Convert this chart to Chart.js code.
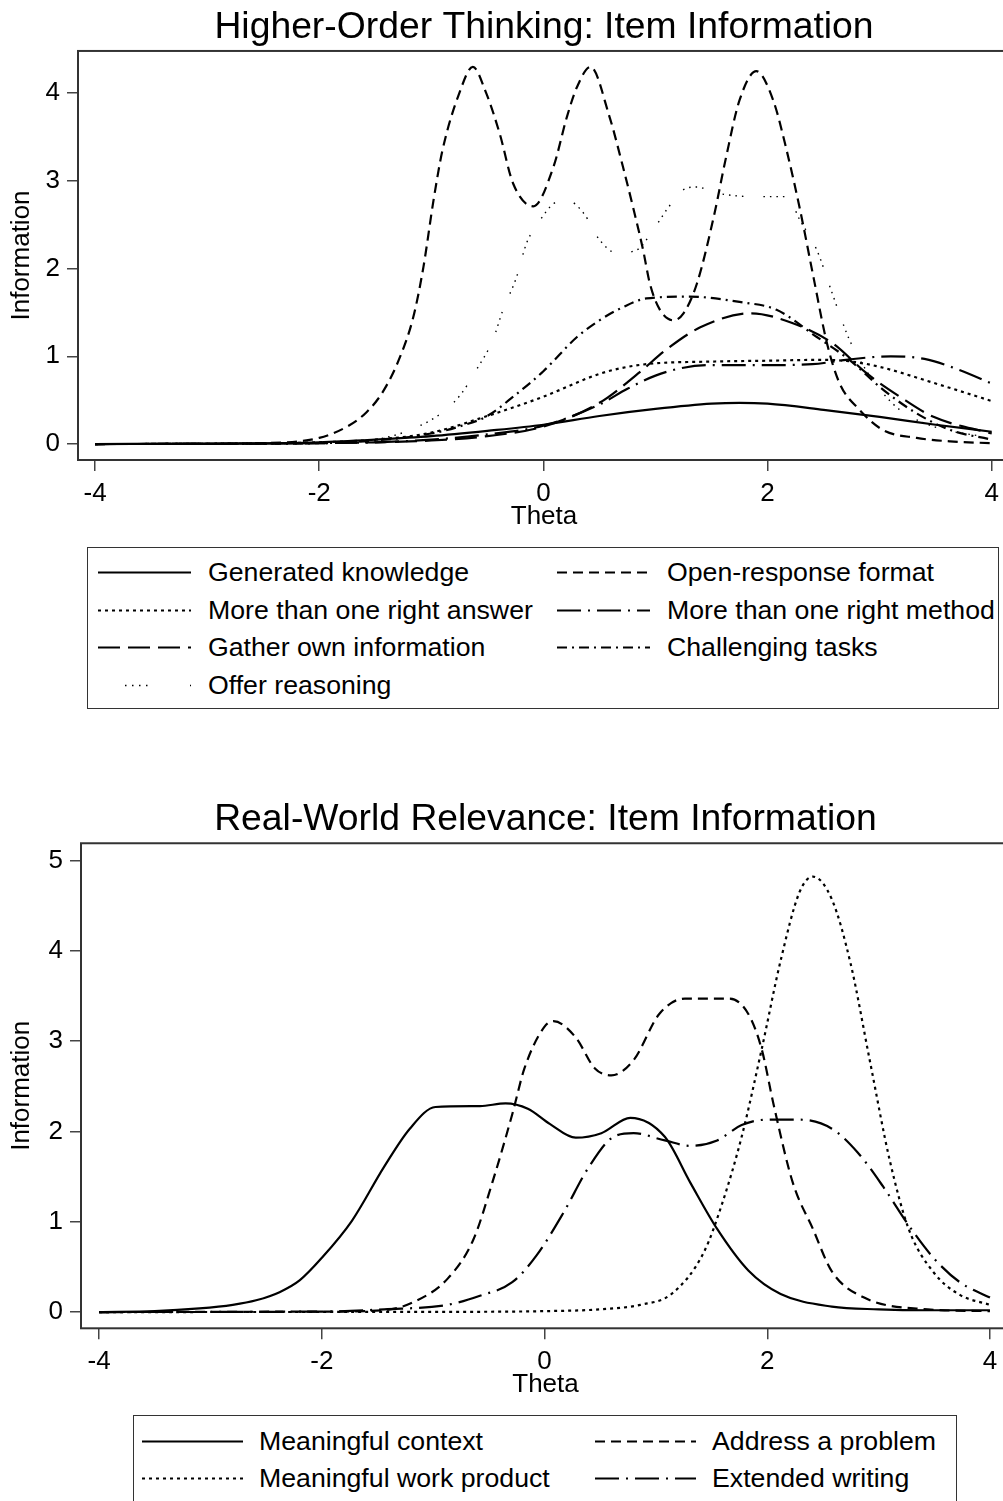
<!DOCTYPE html>
<html>
<head>
<meta charset="utf-8">
<script src="https://cdn.jsdelivr.net/npm/chart.js@4.4.0/dist/chart.umd.min.js"></script>
<style>
  html, body { margin: 0; padding: 0; background: #fff; }
  body { width: 1003px; height: 1501px; overflow: hidden; position: relative; font-family: "Liberation Sans", Arial, sans-serif; }
  canvas { position: absolute; left: 0; }
  .legend { position: absolute; border: 1.5px solid #333; box-sizing: border-box; }
  .item { position: absolute; display: flex; align-items: center; font-size: 26.7px; color: #000; white-space: nowrap; transform: translateY(-50%); }
  .item svg { display: block; flex: none; }
</style>
</head>
<body>
<canvas id="hot" width="1010" height="540" style="top:0"></canvas>
<div class="legend" id="hotLegend" style="left:87px;top:547px;width:912px;height:162px"></div>
<canvas id="rwr" width="1010" height="620" style="top:790px"></canvas>
<div class="legend" id="rwrLegend" style="left:133px;top:1415px;width:824px;height:88px"></div>

<script>
// ---- Higher-Order Thinking: item information (theta, info) ----
const genKnowTheta = [-4, -3, -2, -1.5, -1, -0.5, 0, 0.5, 1, 1.5, 1.75, 2, 2.5, 3, 3.5, 4];
const genKnowInfo  = [0, 0.005, 0.02, 0.05, 0.09, 0.15, 0.22, 0.32, 0.40, 0.46, 0.47, 0.46, 0.39, 0.31, 0.22, 0.14];

const openRespTheta = [-4, -3, -2.5, -2, -1.75, -1.58, -1.43, -1.28, -1.16, -1.07, -0.98, -0.9, -0.75, -0.63, -0.51, -0.39, -0.27, -0.09,
  0.09, 0.21, 0.3, 0.42, 0.59, 0.71, 0.8, 0.89, 0.95, 1.04, 1.16, 1.25, 1.37, 1.52, 1.63, 1.75, 1.9, 2.05, 2.17, 2.29, 2.41, 2.53,
  2.64, 2.82, 3.03, 3.33, 3.63, 4];
const openRespInfo = [0, 0.002, 0.01, 0.07, 0.2, 0.36, 0.6, 0.99, 1.45, 2.02, 2.78, 3.35, 4.0, 4.30, 4.0, 3.54, 2.97, 2.71,
  3.16, 3.73, 4.07, 4.30, 3.73, 3.16, 2.70, 2.21, 1.83, 1.53, 1.41, 1.49, 1.83, 2.59, 3.27, 3.92, 4.25, 3.92, 3.35, 2.67, 1.90, 1.15,
  0.70, 0.39, 0.16, 0.07, 0.03, 0.01];

const rightAnsTheta = [-4, -3, -2, -1.5, -1, -0.5, 0, 0.5, 0.75, 1, 1.5, 2, 2.5, 2.75, 3, 3.5, 4];
const rightAnsInfo  = [0, 0.003, 0.02, 0.05, 0.13, 0.32, 0.54, 0.80, 0.88, 0.92, 0.94, 0.95, 0.96, 0.94, 0.88, 0.69, 0.49];

const rightMethTheta = [-4, -3, -2, -1.5, -1, -0.5, 0, 0.5, 0.75, 1, 1.25, 1.5, 2, 2.4, 2.7, 3.1, 3.4, 3.7, 4];
const rightMethInfo  = [0, 0.002, 0.01, 0.02, 0.05, 0.11, 0.21, 0.45, 0.63, 0.78, 0.87, 0.90, 0.90, 0.91, 0.96, 1.0, 0.97, 0.85, 0.69];

const gatherTheta = [-4, -3, -2, -1.5, -1, -0.5, 0, 0.5, 0.86, 1.1, 1.4, 1.85, 2.22, 2.58, 2.88, 3.18, 3.48, 4];
const gatherInfo  = [0, 0.002, 0.01, 0.02, 0.04, 0.09, 0.2, 0.47, 0.82, 1.08, 1.33, 1.49, 1.38, 1.15, 0.81, 0.54, 0.31, 0.12];

const challTheta = [-4, -3, -2, -1.5, -1, -0.75, -0.5, -0.25, 0, 0.3, 0.5, 0.71, 0.92, 1.3, 1.75, 2.08, 2.44, 2.73, 3.03, 3.33, 3.63, 4];
const challInfo  = [0, 0.002, 0.01, 0.04, 0.12, 0.2, 0.32, 0.56, 0.83, 1.22, 1.41, 1.56, 1.66, 1.68, 1.62, 1.53, 1.22, 0.96, 0.62, 0.35, 0.16, 0.05];

const reasonTheta = [-4, -3, -2, -1.5, -1.19, -0.89, -0.74, -0.6, -0.45, -0.36, -0.24, -0.15, -0.03, 0.09, 0.21, 0.36, 0.5, 0.65, 0.83,
  0.98, 1.1, 1.25, 1.37, 1.55, 1.9, 2.17, 2.29, 2.44, 2.56, 2.64, 2.73, 2.88, 3.03, 3.18, 3.48, 4];
const reasonInfo  = [0, 0.002, 0.01, 0.05, 0.16, 0.37, 0.56, 0.84, 1.19, 1.53, 1.90, 2.29, 2.55, 2.74, 2.78, 2.63, 2.33, 2.18, 2.21,
  2.44, 2.67, 2.90, 2.93, 2.86, 2.82, 2.82, 2.55, 2.21, 1.78, 1.49, 1.19, 0.84, 0.58, 0.39, 0.20, 0.07];

// ---- Real-World Relevance ----
const contextTheta = [-4, -3.5, -3.1, -2.8, -2.59, -2.38, -2.2, -2.0, -1.73, -1.44, -1.21, -0.98, -0.58, -0.35, -0.15, 0.05, 0.28,
  0.51, 0.77, 1.08, 1.31, 1.55, 1.83, 2.12, 2.58, 3, 3.44, 4];
const contextInfo  = [0, 0.01, 0.04, 0.08, 0.13, 0.22, 0.35, 0.6, 1.01, 1.61, 2.03, 2.27, 2.28, 2.31, 2.25, 2.08, 1.93,
  1.98, 2.15, 1.94, 1.43, 0.92, 0.46, 0.20, 0.06, 0.03, 0.02, 0.02];

const problemTheta = [-4, -2, -1.44, -1.16, -0.87, -0.64, -0.47, -0.29, -0.18, 0, 0.08, 0.28, 0.45, 0.6, 0.8, 1.03, 1.26, 1.66,
  1.83, 1.95, 2.06, 2.23, 2.41, 2.58, 2.87, 3.44, 4];
const problemInfo  = [0, 0.005, 0.02, 0.12, 0.37, 0.80, 1.43, 2.19, 2.70, 3.16, 3.22, 3.04, 2.70, 2.62, 2.79, 3.30, 3.47, 3.47,
  3.30, 2.91, 2.28, 1.43, 0.92, 0.45, 0.16, 0.03, 0.01];

const productTheta = [-4, -1, 0, 0.5, 0.86, 1.14, 1.43, 1.6, 1.77, 1.95, 2.12, 2.29, 2.41, 2.58, 2.75, 2.92, 3.1, 3.27, 3.5, 3.73, 4];
const productInfo  = [0, 0.002, 0.01, 0.03, 0.08, 0.20, 0.66, 1.22, 1.94, 2.91, 3.89, 4.65, 4.82, 4.57, 3.85, 2.79, 1.68, 0.92, 0.43, 0.19, 0.08];

const writingTheta = [-4, -2, -1.44, -0.87, -0.58, -0.29, -0.07, 0.17, 0.4, 0.62, 0.8, 1.08, 1.31, 1.55, 1.77, 2, 2.29, 2.58,
  2.81, 3.04, 3.27, 3.5, 3.73, 4];
const writingInfo  = [0, 0.005, 0.03, 0.08, 0.18, 0.33, 0.63, 1.10, 1.61, 1.94, 1.98, 1.90, 1.84, 1.90, 2.07, 2.13, 2.13, 2.03,
  1.77, 1.39, 0.96, 0.59, 0.33, 0.16];

const xTicks = [-4, -2, 0, 2, 4];
const hotYTicks = [0, 1, 2, 3, 4];
const rwrYTicks = [0, 1, 2, 3, 4, 5];

// line patterns (Stata-like)
const SOLID = [];
const DASH = [10, 6];
const VSHORT = [3, 4];
const LONGDASH = [22, 8];
const LONGDASH_DOT = [24, 7, 2, 7];
const DASH_DOT = [10, 5, 2, 5];
const SPARSE_DOT = [1.5, 5, 1.5, 5, 1.5, 5, 1.5, 20];

const FONT = '"Liberation Sans", Arial, sans-serif';

function series(label, theta, info, dash, width) {
  return {
    label,
    data: theta.map((t, i) => ({ x: t, y: info[i] })),
    borderColor: '#000',
    borderWidth: width || 2.2,
    borderDash: dash,
    pointRadius: 0,
    cubicInterpolationMode: 'monotone',
    fill: false
  };
}

const framePlugin = {
  id: 'frame',
  afterDatasetsDraw(chart) {
    const { ctx, chartArea: a } = chart;
    ctx.save();
    ctx.strokeStyle = '#333';
    ctx.lineWidth = 2;
    ctx.strokeRect(a.left, a.top, a.right - a.left + 5, a.bottom - a.top);
    ctx.restore();
  }
};

function makeChart(id, opts) {
  const tickFont = { family: FONT, size: 26 };
  return new Chart(document.getElementById(id), {
    type: 'line',
    data: { datasets: opts.datasets },
    plugins: [framePlugin],
    options: {
      responsive: false,
      animation: false,
      devicePixelRatio: 1,
      layout: { padding: 0 },
      plugins: {
        legend: { display: false },
        tooltip: { enabled: false },
        title: {
          display: true,
          fullSize: false,
          text: opts.title,
          color: '#000',
          font: { family: FONT, size: 37.3, weight: 'normal' },
          padding: opts.titlePad
        }
      },
      scales: {
        x: {
          type: 'linear',
          min: opts.xMin,
          max: opts.xMax,
          afterFit: s => { s.height = opts.xHeight; },
          afterBuildTicks: s => { s.ticks = xTicks.map(v => ({ value: v })); },
          grid: { drawOnChartArea: false, drawTicks: true, tickLength: 11, color: '#444', lineWidth: 1.5 },
          border: { display: false },
          ticks: { font: tickFont, color: '#000', padding: 7, maxRotation: 0, autoSkip: false, callback: v => String(v) },
          title: { display: true, text: 'Theta', color: '#000', font: tickFont, padding: { top: 0, bottom: opts.thetaPad } }
        },
        y: {
          type: 'linear',
          min: opts.yMin,
          max: opts.yMax,
          afterFit: s => { s.width = opts.yWidth; },
          afterBuildTicks: s => { s.ticks = opts.yTicks.map(v => ({ value: v })); },
          grid: { drawOnChartArea: false, drawTicks: true, tickLength: 11, color: '#444', lineWidth: 1.5 },
          border: { display: false },
          ticks: { font: tickFont, color: '#000', padding: 7, autoSkip: false, callback: v => String(v) },
          title: { display: true, text: 'Information', color: '#000', font: tickFont, padding: { top: 6.3, bottom: 0 } }
        }
      }
    }
  });
}

const hotSets = [
  series('Generated knowledge', genKnowTheta, genKnowInfo, SOLID),
  series('Open-response format', openRespTheta, openRespInfo, DASH),
  series('More than one right answer', rightAnsTheta, rightAnsInfo, VSHORT),
  series('More than one right method', rightMethTheta, rightMethInfo, LONGDASH_DOT),
  series('Gather own information', gatherTheta, gatherInfo, LONGDASH),
  series('Challenging tasks', challTheta, challInfo, DASH_DOT),
  series('Offer reasoning', reasonTheta, reasonInfo, SPARSE_DOT, 1.4)
];

const rwrSets = [
  series('Meaningful context', contextTheta, contextInfo, SOLID),
  series('Address a problem', problemTheta, problemInfo, DASH),
  series('Meaningful work product', productTheta, productInfo, VSHORT),
  series('Extended writing', writingTheta, writingInfo, LONGDASH_DOT)
];

makeChart('hot', {
  title: 'Higher-Order Thinking: Item Information',
  titlePad: { top: 5.6, bottom: 0.6 },
  datasets: hotSets,
  xMin: -4.152, xMax: 4.163, xHeight: 80, thetaPad: 7.3,
  yMin: -0.182, yMax: 4.481, yWidth: 78, yTicks: hotYTicks
});

makeChart('rwr', {
  title: 'Real-World Relevance: Item Information',
  titlePad: { top: 7, bottom: 1.5 },
  datasets: rwrSets,
  xMin: -4.163, xMax: 4.18, xHeight: 81.7, thetaPad: 9.3,
  yMin: -0.18, yMax: 5.19, yWidth: 81, yTicks: rwrYTicks
});

// legend sample overrides (the sparse dotted sample shows 4 dots then one)
const legendDash = { 'Offer reasoning': { dash: '1.5 5.5 1.5 5.5 1.5 5.5 1.5 42.5', offset: 38 } };

// legends: HTML boxes, 2 columns, filled row by row
function buildLegend(boxId, sets, cols, rows, lineW, gap) {
  const box = document.getElementById(boxId);
  sets.forEach((ds, i) => {
    const el = document.createElement('div');
    el.className = 'item';
    el.style.left = cols[i % 2] + 'px';
    el.style.top = rows[Math.floor(i / 2)] + 'px';
    const over = legendDash[ds.label];
    const dash = over ? over.dash : (ds.borderDash.length ? ds.borderDash.join(' ') : 'none');
    const offset = over ? over.offset : 0;
    const w = ds.borderWidth > 2 ? 2 : ds.borderWidth;
    el.innerHTML = '<svg width="' + lineW + '" height="6"><line x1="0" y1="3" x2="' + lineW + '" y2="3" stroke="#000" stroke-width="' + w +
      '" stroke-dasharray="' + dash + '" stroke-dashoffset="' + offset + '"/></svg><span style="margin-left:' + gap + 'px">' + ds.label + '</span>';
    box.appendChild(el);
  });
}

buildLegend('hotLegend', hotSets, [10, 469], [24, 62, 99, 137], 93, 17);
buildLegend('rwrLegend', rwrSets, [8, 461], [25, 62], 101, 16);
</script>
</body>
</html>
